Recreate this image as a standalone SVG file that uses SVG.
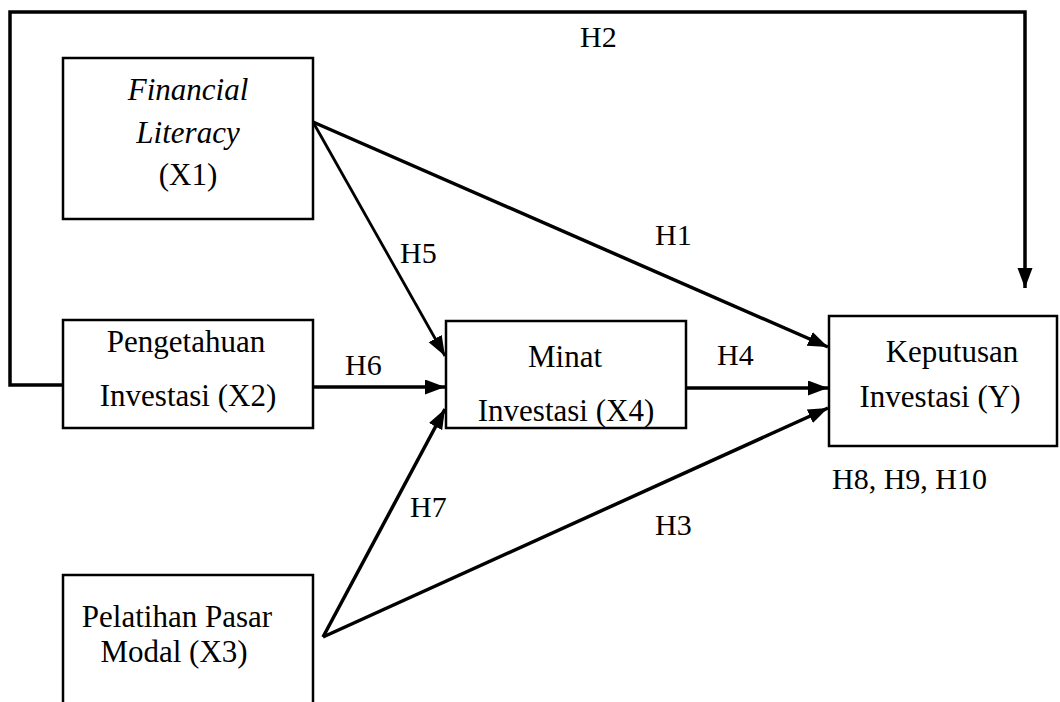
<svg xmlns="http://www.w3.org/2000/svg" width="1060" height="702" viewBox="0 0 1060 702">
  <style>
    .box { fill: #ffffff; stroke: #000000; stroke-width: 2.5; }
    .lbl { font-family: "Liberation Serif", "Times New Roman", serif; font-size: 31px; fill: #000000; text-anchor: middle; }
    .hyp { font-family: "Liberation Serif", "Times New Roman", serif; font-size: 30px; fill: #000000; }
    .edge { fill: none; stroke: #000000; stroke-width: 3.5; stroke-linejoin: miter; }
    .thin { stroke-width: 2.8; }
  </style>
  <defs>
    <marker id="arrow" markerUnits="userSpaceOnUse" markerWidth="22" markerHeight="16" refX="20" refY="7.5" orient="auto">
      <path d="M0,0 L20,7.5 L0,15 z" fill="#000000"/>
    </marker>
  </defs>
  <rect width="1060" height="702" fill="#ffffff"/>

  <!-- connectors -->
  <g id="connectors">
    <polyline class="edge" points="63,385 10,385 10,12 1025,12 1025,288" marker-end="url(#arrow)"/>
    <line class="edge" x1="313" y1="122" x2="828" y2="347" marker-end="url(#arrow)"/>
    <line class="edge thin" x1="313" y1="122" x2="445" y2="356" marker-end="url(#arrow)"/>
    <line class="edge" x1="313" y1="387" x2="445" y2="387" marker-end="url(#arrow)"/>
    <line class="edge" x1="323" y1="637" x2="445" y2="409" marker-end="url(#arrow)"/>
    <line class="edge" x1="323" y1="637" x2="828" y2="408" marker-end="url(#arrow)"/>
    <line class="edge" x1="686" y1="388" x2="828" y2="388" marker-end="url(#arrow)"/>
  </g>

  <!-- hypothesis labels -->
  <g id="labels">
    <text class="hyp" x="580" y="47">H2</text>
    <text class="hyp" x="655" y="245">H1</text>
    <text class="hyp" x="400" y="263">H5</text>
    <text class="hyp" x="345" y="375">H6</text>
    <text class="hyp" x="717" y="365">H4</text>
    <text class="hyp" x="410" y="517">H7</text>
    <text class="hyp" x="655" y="535">H3</text>
    <text class="hyp" x="832" y="489">H8, H9, H10</text>
  </g>

  <!-- nodes -->
  <g id="node-x1">
    <rect class="box" x="63" y="58" width="250" height="161"/>
    <text class="lbl" x="188" y="100" font-style="italic">Financial</text>
    <text class="lbl" x="188" y="143" font-style="italic">Literacy</text>
    <text class="lbl" x="188" y="185">(X1)</text>
  </g>
  <g id="node-x2">
    <rect class="box" x="63" y="320" width="250" height="108"/>
    <text class="lbl" x="186" y="352">Pengetahuan</text>
    <text class="lbl" x="188" y="406">Investasi (X2)</text>
  </g>
  <g id="node-x3">
    <rect class="box" x="63" y="575" width="250" height="140"/>
    <text class="lbl" x="177" y="627">Pelatihan Pasar</text>
    <text class="lbl" x="174" y="662">Modal (X3)</text>
  </g>
  <g id="node-x4">
    <rect class="box" x="446" y="321" width="240" height="107"/>
    <text class="lbl" x="565" y="367">Minat</text>
    <text class="lbl" x="566" y="421">Investasi (X4)</text>
  </g>
  <g id="node-y">
    <rect class="box" x="829" y="316" width="228" height="130"/>
    <text class="lbl" x="952" y="362">Keputusan</text>
    <text class="lbl" x="940" y="407">Investasi (Y)</text>
  </g>
</svg>
